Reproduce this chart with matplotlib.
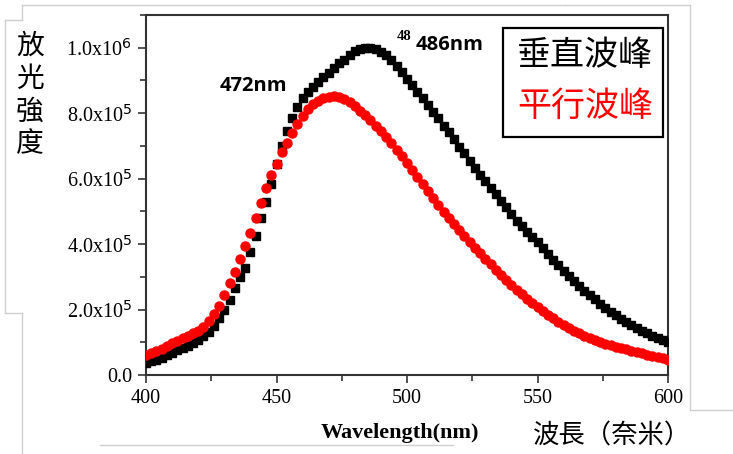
import matplotlib
matplotlib.use("Agg")
import matplotlib.pyplot as plt
from matplotlib.lines import Line2D
from matplotlib.ticker import MultipleLocator, FuncFormatter

# wavelength grid (nm), 2 nm step
wavelength = list(range(400, 601, 2))

# emission intensity in units of 1e5
vertical_peak = [
    0.37, 0.42, 0.47, 0.53, 0.60, 0.68, 0.75, 0.82, 0.90, 0.98,
    1.07, 1.18, 1.32, 1.50, 1.73, 1.98, 2.30, 2.65, 2.98, 3.28,
    3.75, 4.25, 4.80, 5.30, 5.85, 6.45, 7.00, 7.45, 7.85, 8.18,
    8.45, 8.65, 8.80, 8.95, 9.10, 9.23, 9.38, 9.52, 9.63, 9.78,
    9.90, 9.97, 10.00, 10.00, 9.95, 9.88, 9.78, 9.62, 9.45, 9.25,
    9.05, 8.85, 8.65, 8.45, 8.25, 8.05, 7.85, 7.62, 7.42, 7.20,
    6.98, 6.77, 6.55, 6.33, 6.12, 5.92, 5.72, 5.52, 5.32, 5.12,
    4.92, 4.72, 4.55, 4.38, 4.22, 4.05, 3.88, 3.70, 3.52, 3.35,
    3.18, 3.02, 2.87, 2.72, 2.58, 2.44, 2.31, 2.18, 2.05, 1.93,
    1.82, 1.72, 1.62, 1.52, 1.43, 1.35, 1.27, 1.20, 1.14, 1.08,
    1.02,
]
parallel_peak = [
    0.60, 0.66, 0.72, 0.79, 0.88, 0.97, 1.05, 1.13, 1.20, 1.27,
    1.34, 1.48, 1.65, 1.85, 2.12, 2.45, 2.80, 3.15, 3.55, 3.95,
    4.35, 4.80, 5.25, 5.70, 6.10, 6.45, 6.80, 7.10, 7.40, 7.68,
    7.92, 8.12, 8.27, 8.38, 8.46, 8.50, 8.51, 8.48, 8.42, 8.33,
    8.22, 8.08, 7.93, 7.78, 7.62, 7.45, 7.27, 7.08, 6.88, 6.68,
    6.48, 6.27, 6.06, 5.85, 5.63, 5.41, 5.20, 4.99, 4.79, 4.60,
    4.42, 4.24, 4.06, 3.89, 3.72, 3.55, 3.38, 3.21, 3.05, 2.89,
    2.74, 2.60, 2.46, 2.33, 2.20, 2.07, 1.95, 1.84, 1.73, 1.63,
    1.53, 1.44, 1.35, 1.27, 1.20, 1.13, 1.07, 1.01, 0.96, 0.91,
    0.86, 0.82, 0.78, 0.74, 0.70, 0.66, 0.62, 0.58, 0.55, 0.51,
    0.47,
]
scale = 1e5

cjk = ["Noto Sans CJK TC", "DejaVu Sans"]
serif = "Liberation Serif"


def sci_label(v, pos):
    if v == 0:
        return "0.0"
    exp = 6 if v >= 1e6 else 5
    return r"%.1fx10$^{%d}$" % (v / 10 ** exp, exp)


def draw():
    W, H = 733, 454
    fig = plt.figure(figsize=(W / 100, H / 100), dpi=100)
    ax = fig.add_axes([146 / W, 1 - 375 / H, 522 / W, 360 / H])

    x = wavelength
    ax.plot(x, [v * scale for v in vertical_peak], ls="none", marker="s",
            ms=6, color="black", zorder=3)
    ax.plot(x, [v * scale for v in parallel_peak], ls="none", marker="o",
            ms=6.5, color="#ff0000", mec="#ff0000", zorder=4)

    ax.set_xlim(400, 600)
    ax.set_ylim(0, 1.1e6)
    ax.xaxis.set_major_locator(MultipleLocator(50))
    ax.xaxis.set_minor_locator(MultipleLocator(25))
    ax.yaxis.set_major_locator(MultipleLocator(2e5))
    ax.yaxis.set_minor_locator(MultipleLocator(1e5))
    ax.yaxis.set_major_formatter(FuncFormatter(sci_label))
    ax.tick_params(which="both", direction="out", width=1.2, color="#333333")
    ax.tick_params(which="major", length=6, labelsize=14.5, pad=4)
    ax.tick_params(which="minor", length=4)
    for lab in ax.get_xticklabels() + ax.get_yticklabels():
        lab.set_fontfamily(serif)
    for sp in ax.spines.values():
        sp.set_linewidth(1.5)
        sp.set_color("#333333")

    # peak annotations
    fig.text(253 / W, 1 - 86 / H, "472nm", fontsize=14.5, fontweight="bold",
             family="Open Sans", ha="center", va="center")
    fig.text(450 / W, 1 - 45 / H, "486nm", fontsize=14.5, fontweight="bold",
             family="Open Sans", ha="center", va="center")
    fig.text(404 / W, 1 - 36 / H, "48", fontsize=10.5, fontweight="bold",
             family=serif, ha="center", va="center")

    # legend box with coloured labels
    ax.add_patch(plt.Rectangle((503 / W, 1 - 137 / H), 160 / W, 109 / H,
                               transform=fig.transFigure, fill=False,
                               lw=1.6, ec="black", zorder=5))
    fig.text(585 / W, 1 - 56 / H, "垂直波峰", family=cjk, fontsize=24.5,
             ha="center", va="center", color="black")
    fig.text(585 / W, 1 - 106 / H, "平行波峰", family=cjk, fontsize=24.5,
             ha="center", va="center", color="#ff0000")

    # axis titles
    fig.text(30 / W, 1 - 95 / H, "\n".join("放光強度"), family=cjk,
             fontsize=20, ha="center", va="center", linespacing=1.12)
    fig.text(400 / W, 1 - 433 / H, "Wavelength(nm)", family=serif,
             fontweight="bold", fontsize=16, ha="center", va="center")
    fig.text(612 / W, 1 - 436 / H, "波長（奈米）", family=cjk, fontsize=19,
             ha="center", va="center")

    # light frame around the pasted figure
    frame = "#cfcfcf"
    segs = [
        ((22, 5), (565, 5)), ((22, 5), (22, 20)), ((5, 20), (22, 20)),
        ((5, 20), (5, 313)), ((5, 313), (22, 313)), ((22, 313), (22, 454)),
        ((565, 5), (690, 5)), ((690, 5), (690, 410)), ((690, 410), (733, 410)),
        ((100, 445), (453, 445)),
    ]
    for (x0, y0), (x1, y1) in segs:
        fig.add_artist(Line2D([x0 / W, x1 / W], [1 - y0 / H, 1 - y1 / H],
                              transform=fig.transFigure, color=frame, lw=1))

    fig.savefig("out.png", dpi=100)


if __name__ == "__main__":
    draw()
